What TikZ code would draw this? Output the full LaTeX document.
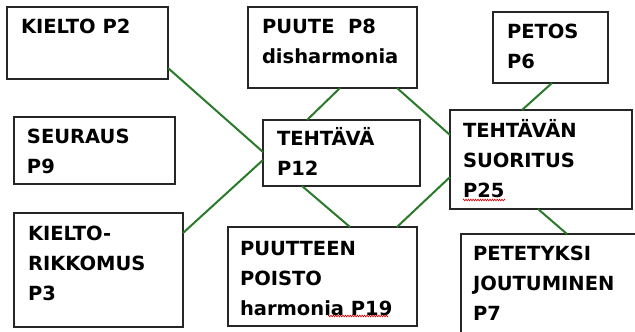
\documentclass[tikz,border=0pt]{standalone}
\usepackage{fontspec}
\setmainfont{DejaVu Sans}
\usetikzlibrary{calc,decorations.pathmorphing}
\definecolor{linkgreen}{RGB}{42,122,42}
\tikzset{
  box/.style={draw=black!85, line width=1.3pt, rectangle, inner sep=0pt, outer sep=0pt, anchor=north west},
  lbl/.style={inner sep=0pt, outer sep=0pt, anchor=base west, font=\fontsize{19.5}{30}\selectfont\bfseries},
  link/.style={draw=linkgreen, line width=2pt},
  squig/.style={draw=red!85!black, line width=0.6pt, decorate, decoration={zigzag, segment length=2.4pt, amplitude=0.9pt}}
}
\newcommand{\bxt}[1]{\parbox[t]{220pt}{\raggedright #1}}
\begin{document}
\begin{tikzpicture}[x=1pt,y=-1pt]
\useasboundingbox (0,0) rectangle (635,332);
\clip (0,0) rectangle (635,332);
\fill[white] (0,0) rectangle (635,332);
% boxes
\node[box, minimum width=161pt, minimum height=72pt] (p2) at (7,7) {};
\node[box, minimum width=161pt, minimum height=67pt] (p9) at (14,117) {};
\node[box, minimum width=169pt, minimum height=114pt] (p3) at (14,213) {};
\node[box, minimum width=169pt, minimum height=81pt] (p8) at (248,7) {};
\node[box, minimum width=157pt, minimum height=66pt] (p12) at (263,120) {};
\node[box, minimum width=115pt, minimum height=71pt] (p6) at (493,12) {};
\node[box, minimum width=182pt, minimum height=99pt] (p25) at (450,110) {};
\node[box, minimum width=189pt, minimum height=99pt] (p19) at (228,227) {};
\node[box, minimum width=190pt, minimum height=120pt] (p7) at (461,234) {};
% texts
\node[lbl] (t2) at ($(p2.north west)+(14,26)$) {\bxt{KIELTO P2}};
\node[lbl] (t9) at ($(p9.north west)+(13,26)$) {\bxt{SEURAUS\\P9}};
\node[lbl] (t3) at ($(p3.north west)+(14,27)$) {\bxt{KIELTO-\\RIKKOMUS\\P3}};
\node[lbl] (t8) at ($(p8.north west)+(14,26)$) {\bxt{PUUTE\ \ P8\\disharmonia}};
\node[lbl] (t12) at ($(p12.north west)+(14,25)$) {\bxt{TEHTÄVÄ\\P12}};
\node[lbl] (t6) at ($(p6.north west)+(14,26)$) {\bxt{PETOS\\P6}};
\node[lbl] (t25) at ($(p25.north west)+(13,27)$) {\bxt{TEHTÄVÄN\\SUORITUS\\P25}};
\node[lbl] (t19) at ($(p19.north west)+(12,28)$) {\bxt{PUUTTEEN\\POISTO\\harmonia P19}};
\node[lbl] (t7) at ($(p7.north west)+(12,26)$) {\bxt{PETETYKSI\\JOUTUMINEN\\P7}};
% spell-check squiggles
\draw[squig] (463,200) -- (505,200);
\draw[squig] (328,316) -- (388,316);
% connectors
\draw[link] ($(p2.north east)+(0,61)$) -- ($(p12.north west)+(0,32)$);
\draw[link] ($(p3.north east)+(0,20)$) -- ($(p12.north west)+(0,40)$);
\draw[link] ($(p8.south west)+(92,0)$) -- ($(p12.north west)+(44,0)$);
\draw[link] ($(p8.south west)+(149,0)$) -- ($(p25.north west)+(0,25)$);
\draw[link] ($(p6.south west)+(59,0)$) -- ($(p25.north west)+(72,0)$);
\draw[link] ($(p12.south west)+(39,0)$) -- ($(p19.north west)+(122,0)$);
\draw[link] ($(p25.north west)+(0,67)$) -- ($(p19.north west)+(169,0)$);
\draw[link] ($(p25.south west)+(88,0)$) -- ($(p7.north west)+(106,0)$);
\end{tikzpicture}
\end{document}
